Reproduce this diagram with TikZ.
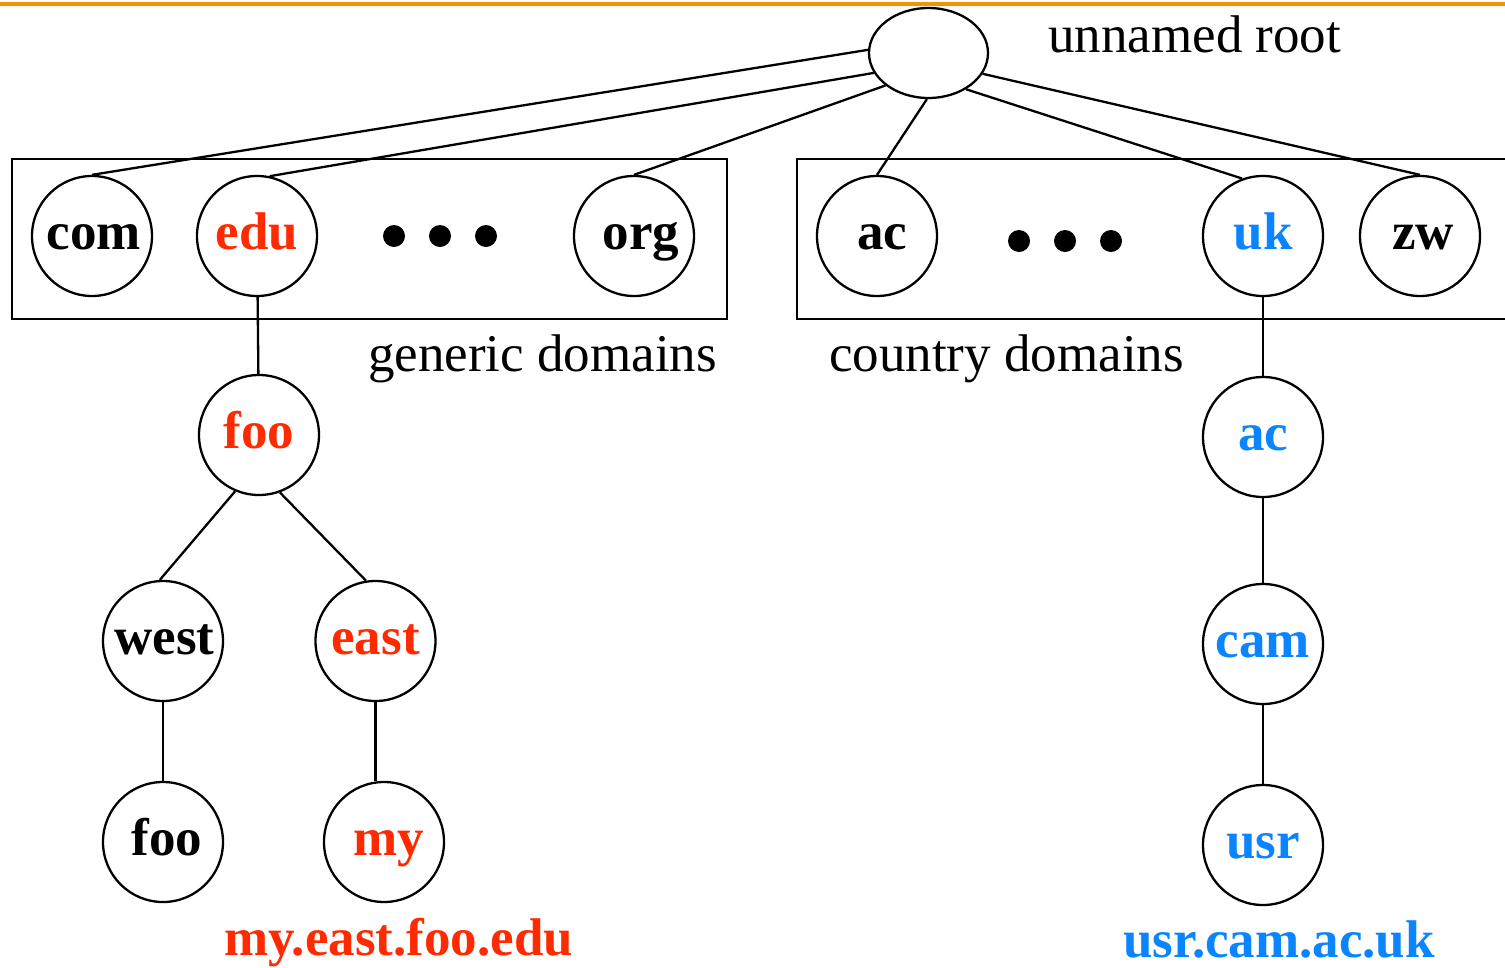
\documentclass[tikz,border=0pt]{standalone}
\usepackage{fontspec}
\setmainfont{Liberation Serif}
\usetikzlibrary{shapes.geometric}
\definecolor{dnsred}{RGB}{255,42,0}
\definecolor{dnsblue}{RGB}{10,132,255}
\definecolor{rulecol}{RGB}{245,146,0}
\newcommand{\nudge}[1]{\hspace*{#1pt}}
\tikzset{
  dom/.style={draw, circle, line width=2.3pt, minimum size=120pt, inner sep=0pt,
    font=\fontsize{53}{60}\selectfont\bfseries, text height=27pt, text depth=0pt},
  rednode/.style={dom, text=dnsred},
  bluenode/.style={dom, text=dnsblue},
  edge/.style={line width=2.3pt},
  frame/.style={line width=2.3pt},
  caption/.style={font=\fontsize{53}{60}\selectfont, inner sep=0pt, anchor=base west},
  fullname/.style={font=\fontsize{53}{60}\selectfont\bfseries, inner sep=0pt, anchor=base west},
  dot/.style={fill=black}
}
\begin{document}
\begin{tikzpicture}[x=1pt,y=-1pt]
\useasboundingbox (0,0) rectangle (1505,967);
\fill[white] (0,0) rectangle (1505,967);
% top rule
\draw[rulecol, line width=4.5pt] (0,4) -- (1505,4);

% root
\node[draw, ellipse, line width=2.3pt, minimum width=119pt, minimum height=90pt, inner sep=0pt] (root) at (928.5,53) {};
\node[caption] (rootlbl) at (1048,52) {unnamed root};

% boxes
\draw[frame] (12,159) rectangle (727,319);
\draw[frame] (1505,159) -- (797,159) -- (797,319) -- (1505,319);
\node[caption] (gen) at (368,371) {generic domains};
\node[caption] (cty) at (829,371) {country domains};

% top-level domains
\node[dom] (com) at (92,236) {\nudge{4}com};
\node[rednode] (edu) at (257,236) {edu};
\node[dom] (org) at (634,236) {\nudge{14}org};
\node[dom] (ac) at (877,236) {\nudge{11}ac};
\node[bluenode] (uk) at (1263,236) {uk};
\node[dom] (zw) at (1420,236) {\nudge{6}zw};

% ellipsis dots
\fill[dot] (394,236) circle (11);
\fill[dot] (440,236) circle (11);
\fill[dot] (486,236) circle (11);
\fill[dot] (1019,241) circle (11);
\fill[dot] (1065,241) circle (11);
\fill[dot] (1111,241) circle (11);

% generic subtree
\node[rednode] (foo) at (259,435) {foo};
\node[dom] (west) at (163,641) {\nudge{3}west};
\node[rednode] (east) at (375.5,641) {east};
\node[dom] (foob) at (163,842) {\nudge{8}foo};
\node[rednode] (my) at (384,842) {\nudge{9}my};
\node[fullname, text=dnsred] (name1) at (224,955) {my.east.foo.edu};

% country subtree
\node[bluenode] (ukac) at (1263,437) {ac};
\node[bluenode] (cam) at (1263,644) {cam};
\node[bluenode] (usr) at (1263,845) {usr};
\node[fullname, text=dnsblue] (name2) at (1123,957) {usr.cam.ac.uk};

% edges from root
\draw[edge] (root.177) -- (com.north);
\draw[edge] (root.200) -- (edu.78);
\draw[edge] (root.217) -- (org.north);
\draw[edge] (root.268) -- (ac.north);
\draw[edge] (root.316) -- (uk.110);
\draw[edge] (root.339) -- (zw.north);

% generic edges
\draw[edge] (edu) -- (foo);
\draw[edge] (foo.247) -- (west.93);
\draw[edge] (foo.290) -- (east.99);
\draw[edge] (west) -- (foob);
\draw[edge] (east.south) -- (east.south |- my.north);

% country edges
\draw[edge] (uk) -- (ukac);
\draw[edge] (ukac) -- (cam);
\draw[edge] (cam) -- (usr);
\end{tikzpicture}
\end{document}
